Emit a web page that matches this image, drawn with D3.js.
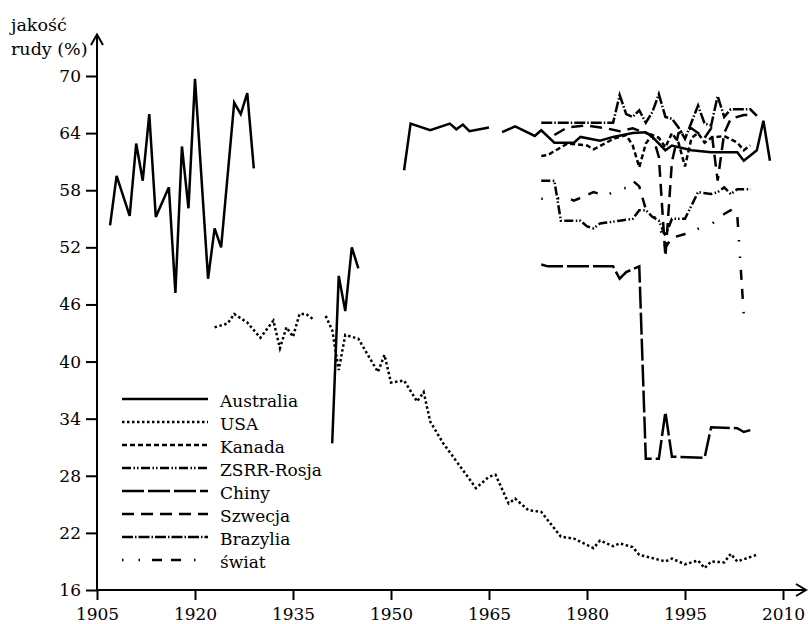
<!DOCTYPE html>
<html><head><meta charset="utf-8">
<script src="https://cdn.jsdelivr.net/npm/d3@7/dist/d3.min.js"></script>
<style>body{margin:0;background:#fff}text{font-family:"DejaVu Serif",serif;fill:#000}</style>
</head><body>
<svg id="c" width="808" height="624"></svg>
<script>
const xTicks = [1905,1920,1935,1950,1965,1980,1995,2010];
const yTicks = [16,22,28,34,40,46,52,58,64,70];
const seriesNames = ["Australia","USA","Kanada","ZSRR-Rosja","Chiny","Szwecja","Brazylia","świat"];

const australia = [[1907,54.3],[1908,59.5],[1910,55.3],[1911,62.9],[1912,59.0],[1913,66.0],[1914,55.2],[1916,58.3],[1917,47.2],[1918,62.6],[1919,56.1],[1920,69.7],[1922,48.7],[1923,54.0],[1924,52.0],[1926,67.2],[1927,66.0],[1928,68.2],[1929,60.3],[1930,null],
  [1941,31.4],[1942,49.0],[1943,45.3],[1944,52.0],[1945,49.8],[1946,null],
  [1952,60.1],[1953,65.0],[1956,64.3],[1959,65.0],[1960,64.4],[1961,64.9],[1962,64.2],[1965,64.6],[1966,null],
  [1967,64.1],[1969,64.7],[1972,63.7],[1973,64.3],[1975,63.0],[1978,63.0],[1979,63.6],[1982,63.2],[1984,63.6],[1987,64.0],[1989,64.1],[1990,63.6],[1992,62.2],[1993,62.7],[1996,62.2],[1999,62.0],[2003,62.0],[2004,61.1],[2006,62.2],[2007,65.3],[2008,61.1]];
const usa = [[1923,43.6],[1925,44.0],[1926,45.0],[1928,44.1],[1930,42.5],[1932,44.3],[1933,41.4],[1934,43.6],[1935,42.6],[1936,45.0],[1937,45.0],[1938,44.5],[1939,null],
  [1940,44.8],[1941,43.3],[1942,39.1],[1943,42.8],[1945,42.4],[1948,38.9],[1949,40.7],[1950,37.8],[1952,38.0],[1954,35.8],[1955,36.8],[1956,33.7],[1958,31.4],[1961,28.6],[1963,26.7],[1965,27.9],[1966,28.1],[1968,25.1],[1969,25.6],[1971,24.4],[1973,24.2],[1976,21.6],[1978,21.4],[1981,20.4],[1982,21.2],[1984,20.6],[1985,20.9],[1987,20.5],[1988,19.7],[1992,19.0],[1993,19.3],[1995,18.7],[1997,19.1],[1998,18.3],[1999,19.0],[2001,18.9],[2002,19.8],[2003,19.0],[2006,19.7]];
const kanada = [[1973,61.6],[1974,61.7],[1976,62.5],[1977,62.9],[1980,62.7],[1981,62.3],[1983,63.0],[1984,63.4],[1986,63.8],[1987,62.7],[1988,60.4],[1989,62.9],[1990,63.8],[1991,63.5],[1992,62.5],[1993,64.0],[1994,63.0],[1995,60.5],[1996,63.5],[1997,64.0],[1998,63.0],[1999,63.5],[2001,63.7],[2003,63.0],[2004,62.2],[2005,62.7]];
const zsrr = [[1973,59.0],[1975,59.0],[1976,54.8],[1979,54.8],[1980,54.2],[1981,54.0],[1982,54.5],[1983,54.6],[1985,54.8],[1987,55.0],[1988,55.9],[1989,55.9],[1990,55.2],[1991,54.8],[1992,53.2],[1993,55.0],[1995,55.0],[1997,57.8],[1999,57.6],[2000,57.8],[2001,58.3],[2002,57.6],[2003,58.1],[2005,58.1]];
const chiny = [[1973,50.2],[1974,50.0],[1984,50.0],[1985,48.7],[1986,49.4],[1988,50.0],[1989,29.8],[1991,29.8],[1992,34.7],[1993,30.0],[1998,29.9],[1999,33.1],[2003,33.0],[2004,32.6],[2005,32.8]];
const szwecja = [[1975,63.8],[1977,64.6],[1980,64.8],[1983,64.5],[1985,64.2],[1987,64.5],[1989,64.0],[1990,63.8],[1991,61.5],[1992,51.0],[1993,61.0],[1994,64.0],[1996,64.5],[1998,63.5],[1999,64.5],[2000,59.0],[2001,64.0],[2002,65.5],[2004,65.9],[2005,65.9]];
const brazylia = [[1973,65.1],[1984,65.1],[1985,68.0],[1986,66.0],[1987,65.7],[1988,66.4],[1989,65.1],[1990,66.2],[1991,68.1],[1992,65.7],[1993,65.5],[1994,64.6],[1995,63.4],[1997,66.9],[1998,65.0],[1999,64.8],[2000,67.9],[2001,65.7],[2002,66.5],[2005,66.5],[2006,65.8]];
const swiat = [[1973,57.1],[1977,57.2],[1978,56.9],[1980,57.5],[1981,57.8],[1983,57.4],[1985,58.3],[1986,58.2],[1987,59.0],[1988,58.4],[1989,56.0],[1990,55.5],[1991,54.5],[1992,52.0],[1993,53.0],[1995,53.4],[1996,53.6],[1998,54.3],[1999,54.4],[2001,55.5],[2002,55.9],[2003,55.4],[2004,44.9]];

const seriesData = [australia, usa, kanada, zsrr, chiny, szwecja, brazylia, swiat];
const dashes = [null, "2.5,2.5", "5,3", "9,2.5,1.5,2,1.5,2.5", "22,4", "12,7", "11,2,1.5,2", "1.5,15,1.5,12,10,9,10,13"];

const svg = d3.select("#c");
const x = d3.scaleLinear().domain([1905,2010]).range([97,783]);
const y = d3.scaleLinear().domain([16,70]).range([590,76]);

// axes
const gx = svg.append("g").attr("transform","translate(0,590)")
  .call(d3.axisBottom(x).tickValues(xTicks).tickFormat(d3.format("d")).tickSize(10).tickPadding(8));
const gy = svg.append("g").attr("transform","translate(97,0)")
  .call(d3.axisLeft(y).tickValues(yTicks).tickSize(11).tickPadding(5));
[gx,gy].forEach(g=>{
  g.select(".domain").remove();
  g.selectAll(".tick line").attr("stroke","#000").attr("stroke-width",2);
  g.selectAll(".tick text").style("font-family","DejaVu Serif").style("font-size","17px").attr("fill","#000");
});
svg.append("line").attr("x1",97).attr("x2",97).attr("y1",591).attr("y2",35).attr("stroke","#000").attr("stroke-width",2);
svg.append("line").attr("x1",96).attr("x2",806).attr("y1",590).attr("y2",590).attr("stroke","#000").attr("stroke-width",2);
svg.append("path").attr("d","M91,45L97,34.5L103,45").attr("fill","none").attr("stroke","#000").attr("stroke-width",2);
svg.append("path").attr("d","M796,584L806,590L796,596").attr("fill","none").attr("stroke","#000").attr("stroke-width",2);

svg.append("text").attr("x",11).attr("y",31).style("font-size","17.5px").text("jakość");
svg.append("text").attr("x",11).attr("y",55).style("font-size","17.5px").text("rudy (%)");

const line = d3.line().defined(d=>d[1]!=null).x(d=>x(d[0])).y(d=>y(d[1]));
seriesData.forEach((s,i)=>{
  svg.append("path").attr("d",line(s)).attr("fill","none").attr("stroke","#000")
    .attr("stroke-width",2.5).attr("stroke-linejoin","miter")
    .attr("stroke-dasharray",dashes[i]);
});

// legend
const lg = svg.append("g");
seriesNames.forEach((n,i)=>{
  const yy = 399 + i*23;
  lg.append("line").attr("x1",122).attr("x2",208).attr("y1",yy).attr("y2",yy)
    .attr("stroke","#000").attr("stroke-width",2.5).attr("stroke-dasharray",dashes[i]);
  lg.append("text").attr("x",220).attr("y",yy+8).style("font-size","17px").text(n);
});
</script>
</body></html>
